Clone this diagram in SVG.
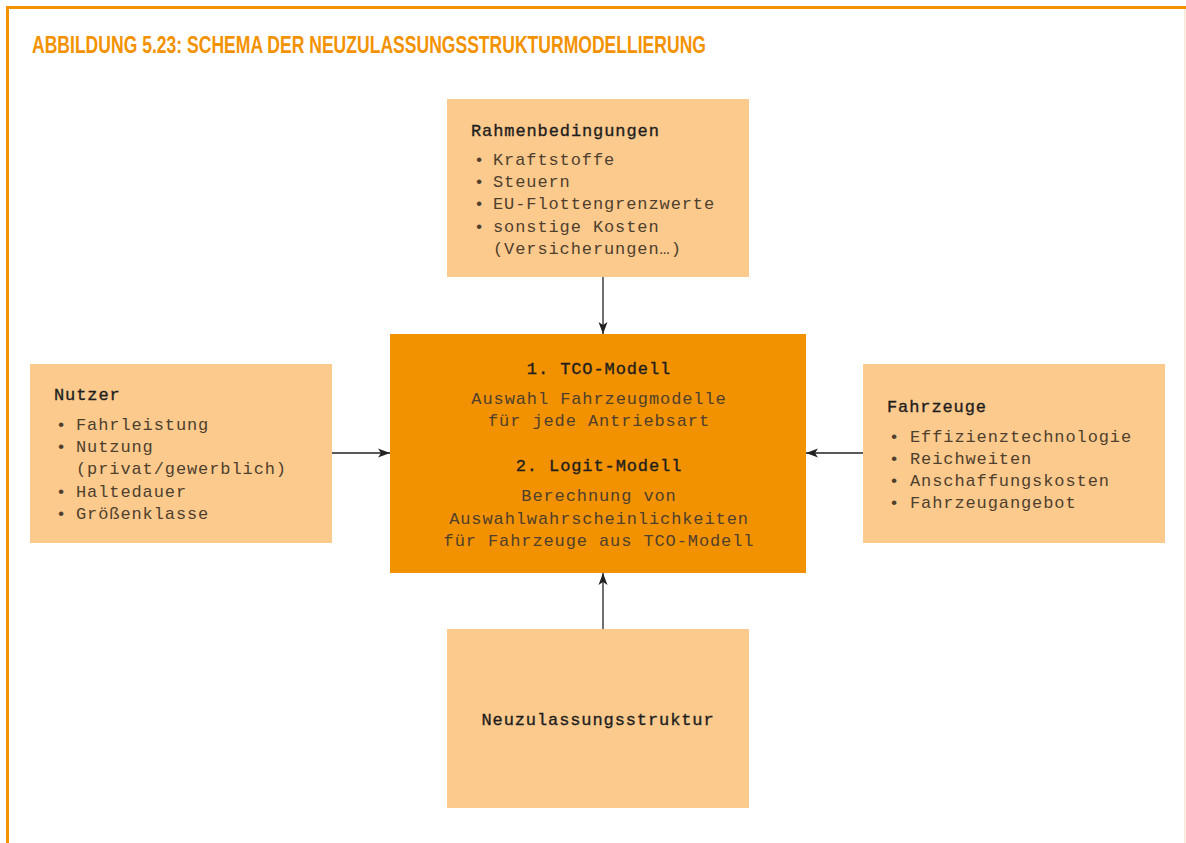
<svg xmlns="http://www.w3.org/2000/svg" width="1186" height="843" viewBox="0 0 1186 843">
<style>
.light{fill:#FCCA8D}
.main{fill:#F39200}
.h{font-family:"Liberation Mono",monospace;font-size:17px;letter-spacing:0.9px;fill:#1e1e1e;stroke:#1e1e1e;stroke-width:0.35}
.t{font-family:"Liberation Mono",monospace;font-size:17px;letter-spacing:0.9px;fill:#4e3f2e}
.c{text-anchor:middle}
.conn line{stroke:#222;stroke-width:1.3}
</style>
<defs>
<marker id="arr" viewBox="0 0 12 10" refX="12" refY="5" markerWidth="12" markerHeight="10" markerUnits="userSpaceOnUse" orient="auto">
<path d="M0,0.5 L12,5 L0,9.5 L3,5 Z" fill="#222"/>
</marker>
</defs>
<rect width="1186" height="843" fill="#fff"/>
<rect x="6" y="6" width="1180" height="3" fill="#F39200"/>
<rect x="6" y="6" width="3" height="837" fill="#F39200"/>
<rect x="1184" y="9" width="1.5" height="834" fill="#FBE6D2"/>
<text x="32" y="53" font-family="Liberation Sans,Arial,sans-serif" font-weight="bold" font-size="23" fill="#F39200" textLength="674" lengthAdjust="spacingAndGlyphs">ABBILDUNG 5.23: SCHEMA DER NEUZULASSUNGSSTRUKTURMODELLIERUNG</text>

<g id="rahmen">
<rect class="light" x="447" y="99" width="302" height="178"/>
<text class="h" x="471" y="136">Rahmenbedingungen</text>
<g class="t">
<text x="474" y="165">•</text><text x="493" y="165">Kraftstoffe</text>
<text x="474" y="187">•</text><text x="493" y="187">Steuern</text>
<text x="474" y="209">•</text><text x="493" y="209">EU-Flottengrenzwerte</text>
<text x="474" y="232">•</text><text x="493" y="232">sonstige Kosten</text>
<text x="493" y="254">(Versicherungen…)</text>
</g>
</g>

<g id="modell">
<rect class="main" x="390" y="334" width="416" height="239"/>
<text class="h c" x="599" y="374">1. TCO-Modell</text>
<text class="t c" x="599" y="404">Auswahl Fahrzeugmodelle</text>
<text class="t c" x="599" y="426">für jede Antriebsart</text>
<text class="h c" x="599" y="471">2. Logit-Modell</text>
<text class="t c" x="599" y="501">Berechnung von</text>
<text class="t c" x="599" y="524">Auswahlwahrscheinlichkeiten</text>
<text class="t c" x="599" y="546">für Fahrzeuge aus TCO-Modell</text>
</g>

<g id="nutzer">
<rect class="light" x="30" y="364" width="302" height="179"/>
<text class="h" x="54" y="400">Nutzer</text>
<g class="t">
<text x="56" y="430">•</text><text x="76" y="430">Fahrleistung</text>
<text x="56" y="452">•</text><text x="76" y="452">Nutzung</text>
<text x="76" y="474">(privat/gewerblich)</text>
<text x="56" y="497">•</text><text x="76" y="497">Haltedauer</text>
<text x="56" y="519">•</text><text x="76" y="519">Größenklasse</text>
</g>
</g>

<g id="fahrzeuge">
<rect class="light" x="863" y="364" width="302" height="179"/>
<text class="h" x="887" y="412">Fahrzeuge</text>
<g class="t">
<text x="889" y="442">•</text><text x="910" y="442">Effizienztechnologie</text>
<text x="889" y="464">•</text><text x="910" y="464">Reichweiten</text>
<text x="889" y="486">•</text><text x="910" y="486">Anschaffungskosten</text>
<text x="889" y="508">•</text><text x="910" y="508">Fahrzeugangebot</text>
</g>
</g>

<g id="struktur">
<rect class="light" x="447" y="629" width="302" height="179"/>
<text class="h c" x="598" y="725">Neuzulassungsstruktur</text>
</g>

<g id="connectors" class="conn">
<line x1="603" y1="277" x2="603" y2="334" marker-end="url(#arr)"/>
<line x1="332" y1="453" x2="390" y2="453" marker-end="url(#arr)"/>
<line x1="863" y1="453" x2="806" y2="453" marker-end="url(#arr)"/>
<line x1="603" y1="629" x2="603" y2="573" marker-end="url(#arr)"/>
</g>
</svg>
